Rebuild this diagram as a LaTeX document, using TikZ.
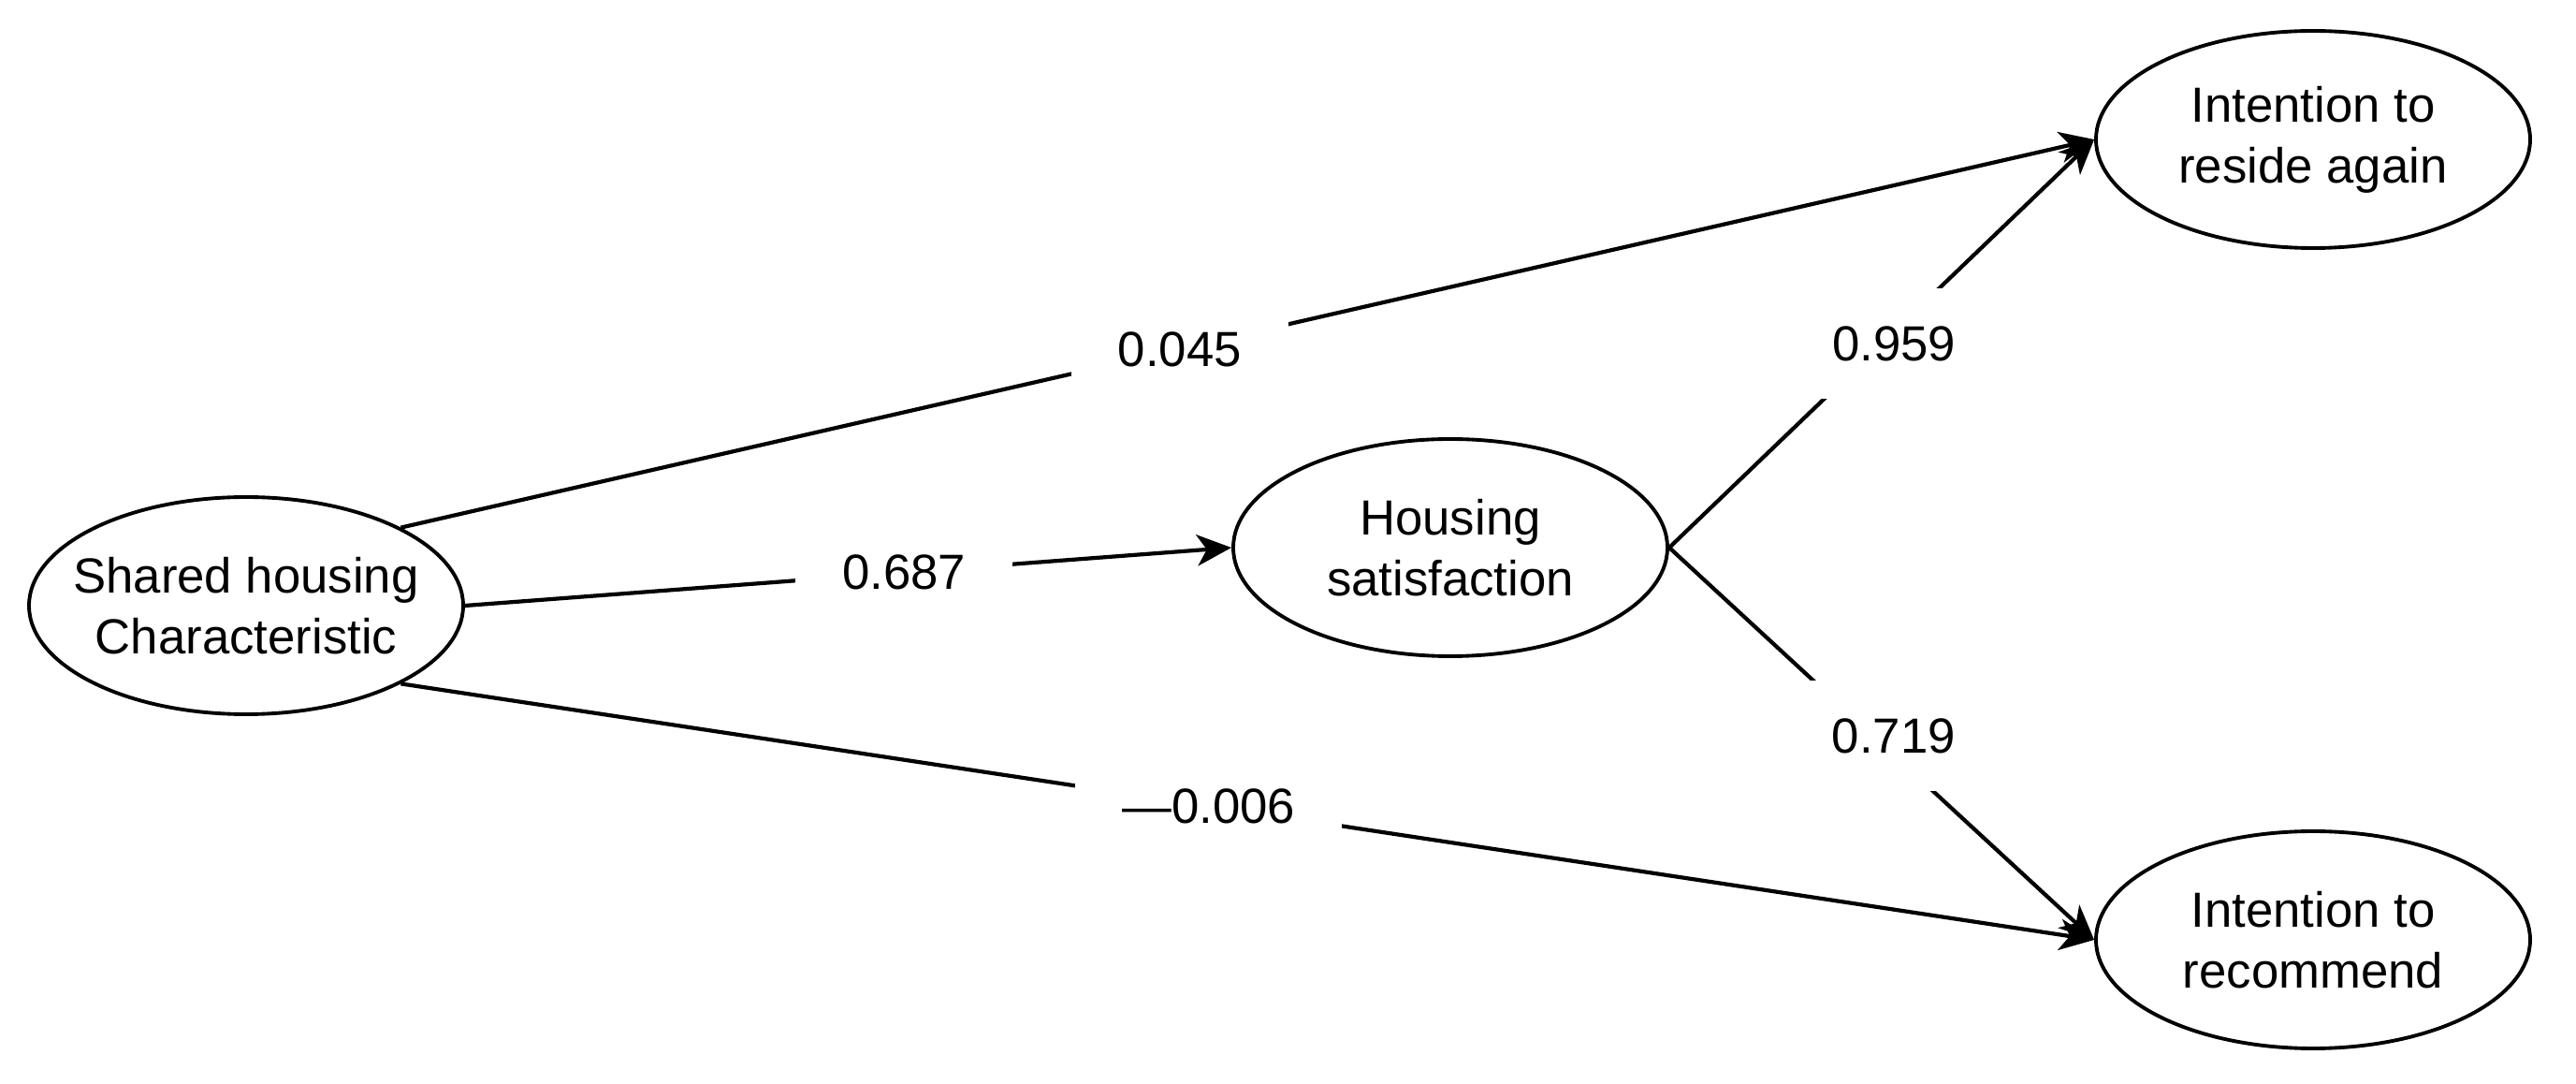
\documentclass[tikz,border=0pt]{standalone}
\usepackage{fontspec}
\setmainfont{Liberation Sans}
\usetikzlibrary{shapes.geometric,arrows.meta}

\begin{document}
\begin{tikzpicture}[
        font=\fontsize{15pt}{18.5pt}\selectfont,
        latent/.style={ellipse,draw,line width=1.1pt,minimum width=4.64cm,minimum height=2.32cm,inner xsep=-0.5cm,inner ysep=0pt,align=center},
        coef/.style={fill=white,inner xsep=0.5cm,inner ysep=0.4cm},
        link/.style={line width=1.2pt,-{Stealth[length=10.5pt,width=9.5pt,inset=3pt]}}
    ]
        \useasboundingbox (0,0) rectangle (27.53,11.57);
        \node[latent] (S) at (2.63,5.10) {Shared housing\\Characteristic};
        \node[latent] (H) at (15.50,5.72) {Housing\\satisfaction};
        \node[latent] (R) at (24.72,10.08) {Intention to\\reside again};
        \node[latent] (M) at (24.72,1.53) {Intention to\\recommend};
        \draw[link] (S.north east) -- node[coef,pos=0.46] (c1) {0.045} (R.west);
        \draw[link] (S.east) -- node[coef,pos=0.573] (c2) {0.687} (H.west);
        \draw[link] (S.south east) -- node[coef,pos=0.477] (c3) {—0.006} (M.west);
        \draw[link] (H.east) -- node[coef,pos=0.5,xshift=0.13cm] (c4) {0.959} (R.west);
        \draw[link] (H.east) -- node[coef,pos=0.48,xshift=0.22cm] (c5) {0.719} (M.west);
    \end{tikzpicture}
\end{document}
